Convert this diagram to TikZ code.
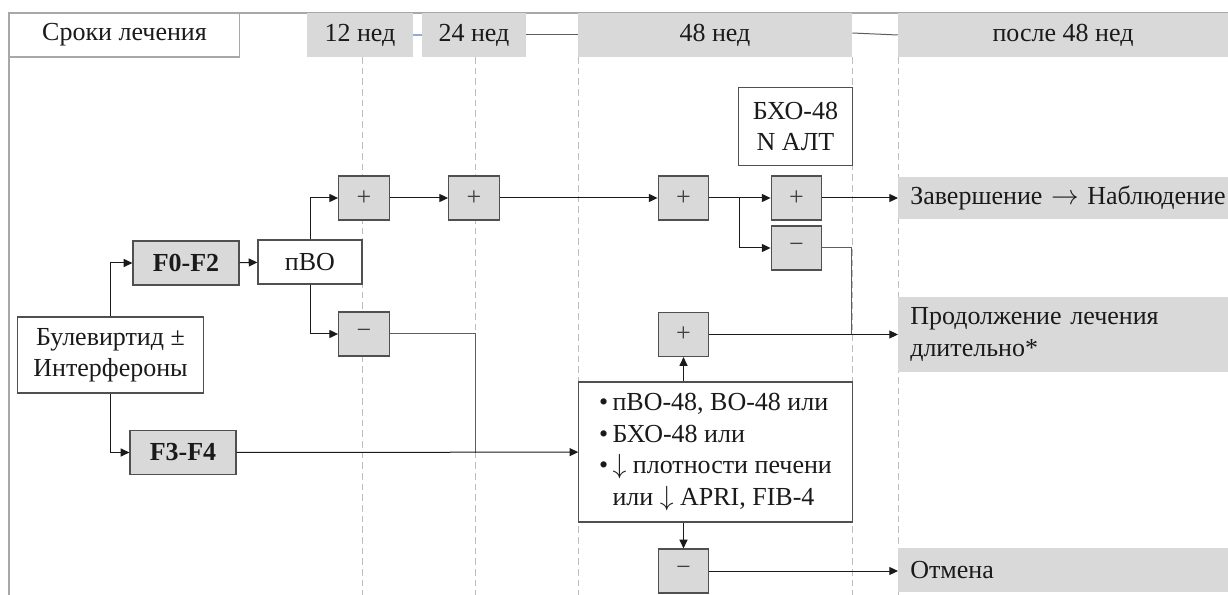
\documentclass[tikz,border=0pt]{standalone}
\usepackage{fontspec}
\setmainfont{Liberation Serif}
\usetikzlibrary{arrows.meta,positioning}
\definecolor{trtInk}{HTML}{1A1A1A}
\definecolor{trtGrey}{HTML}{D9D9D9}
\definecolor{trtEdge}{HTML}{505050}
\definecolor{trtLine}{HTML}{5E5E5E}
\definecolor{trtGuide}{HTML}{BDBDBD}
\definecolor{trtFrame}{HTML}{A8A8A8}
\definecolor{trtBlue}{HTML}{8FAADC}
\newcommand{\txt}{\fontsize{19.5}{23.6}\selectfont}
\newcommand{\dn}{$\downarrow$}
\tikzset{
  box/.style={draw=trtEdge,line width=0.9pt,fill=white,align=center,inner sep=2pt,
              text=trtInk,font=\txt},
  sign/.style={box,fill=trtGrey,minimum width=38pt,minimum height=33pt,text=black!75},
  fbox/.style={box,fill=trtGrey,minimum width=79.5pt,minimum height=33pt,font=\txt\bfseries},
  hdr/.style={fill=trtGrey,minimum height=33pt,inner sep=0pt,text=trtInk,font=\txt},
  outc/.style={fill=trtGrey,anchor=west,inner xsep=9pt,inner ysep=0pt,text width=250pt,
               align=left,text=trtInk,font=\txt},
  arr/.style={-{Triangle[length=6.5pt,width=6pt]},draw=trtInk,line width=0.75pt},
  link/.style={draw=trtLine,line width=0.75pt},
  guide/.style={draw=trtGuide,dash pattern=on 5pt off 3pt,line width=0.5pt},
}

\begin{document}
\begin{tikzpicture}[x=0.75pt,y=-0.75pt]
  \useasboundingbox (0,0) rectangle (1228,595);
  % frame and time guides
  \draw[trtFrame,line width=1pt] (9,595) -- (9,13) -- (1228,13);
  \foreach \x in {362,475,578,852,898}
    \draw[guide] (\x,57) -- (\x,595);

  % header row
  \node[box,draw=trtFrame,minimum width=173pt,minimum height=33pt] (srok) at (124.5,35) {Сроки лечения};
  \node[hdr,minimum width=79.5pt] (w12) at (360,35) {12 нед};
  \node[hdr,minimum width=78pt] (w24) at (474,35) {24 нед};
  \node[hdr,minimum width=205.5pt] (w48) at (715,35) {48 нед};
  \node[hdr,minimum width=247.5pt] (wpost) at (1063,35) {после 48 нед};
  \draw[trtBlue,line width=0.8pt] (w12) -- (w24);
  \draw[link] (w24) -- (w48);
  \draw[link] ([yshift=1.5pt]w48.east) -- (wpost.west);

  % start and fibrosis stage
  \node[box,minimum width=139pt,minimum height=57pt] (bul) at (110.5,355) {Булевиртид ±\\Интерфероны};
  \node[fbox] (f02) at (186,263) {F0-F2};
  \node[fbox] (f34) at (183,452.5) {F3-F4};
  \node[box,minimum width=78pt,minimum height=33pt] (pvo) at (310,262) {пВО};

  % response checks
  \node[sign] (p1) at (364,198) {+};
  \node[sign] (m1) at (364,334) {−};
  \node[sign] (p2) at (474,198) {+};
  \node[sign] (p3) at (683.5,198) {+};
  \node[sign] (p4) at (796.5,198) {+};
  \node[sign] (m2) at (796.5,248) {−};
  \node[box,minimum width=85pt,minimum height=58pt] (bxo) at (795.5,126.5) {БХО-48\\N АЛТ};
  \node[box,minimum width=205pt,minimum height=105pt,align=left] (crit) at (715.5,452)
    {\textbullet\,пВО-48, ВО-48 или\\
     \textbullet\,БХО-48 или\\
     \textbullet\,\dn\ плотности печени\\
     \hphantom{\textbullet\,}или \dn\ APRI, FIB-4};
  \node[sign] (p5) at (683.5,334.5) {+};
  \node[sign] (m3) at (683.5,571) {−};

  % outcomes
  \node[outc,minimum height=31.5pt] (done) at (898,198) {Завершение $\rightarrow$ Наблюдение};
  \node[outc,minimum height=56pt] (cont) at (898,334.5) {Продолжение лечения\\длительно*};
  \node[outc,minimum height=33pt] (stop) at (898,570) {Отмена};

  % connectors
  \coordinate (fork) at (739,198);
  \coordinate (mcont) at (851,334.5);
  \coordinate (mjoin) at (475,452.5);
  \draw[arr] (bul.north) |- (f02.west);
  \draw[arr] (bul.south) |- (f34.west);
  \draw[arr] (f02) -- (pvo);
  \draw[arr] (pvo.north) |- (p1.west);
  \draw[arr] (pvo.south) |- (m1.west);
  \draw[arr] (p1) -- (p2);
  \draw[arr] (p2) -- (p3);
  \draw[arr] (p3) -- (p4);
  \draw[arr] (fork) |- (m2.west);
  \draw[arr] (p4) -- (done.west);
  \draw[link] (m1.east) -| (mjoin);
  \draw[arr] (f34) -- (crit);
  \draw[link] (m2.east) -| (mcont);
  \draw[arr] (p5) -- (cont.west);
  \draw[arr] (crit.north -| p5.south) -- (p5.south);
  \draw[arr] (crit.south -| m3.north) -- (m3.north);
  \draw[arr] (m3.east) -- (m3.east -| stop.west);
\end{tikzpicture}
\end{document}
